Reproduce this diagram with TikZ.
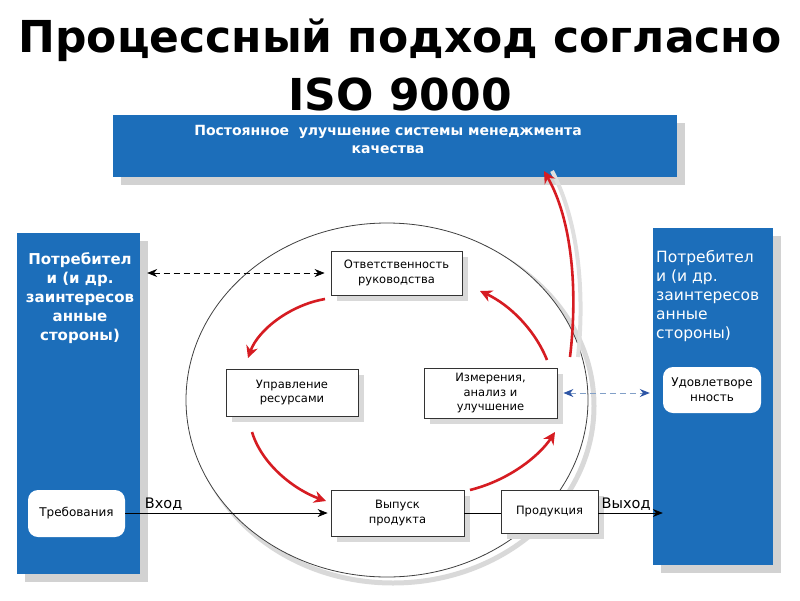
\documentclass[tikz,border=0pt]{standalone}
\usepackage{fontspec}
\setmainfont{DejaVu Sans}
\usetikzlibrary{arrows.meta,shadows}

\definecolor{isoblue}{RGB}{28,110,186}
\definecolor{isored}{RGB}{214,28,34}
\definecolor{dashblue}{RGB}{130,160,200}
\definecolor{tipblue}{RGB}{45,85,165}

\tikzset{
  bluebox/.style={fill=isoblue,draw=none,drop shadow={shadow xshift=8pt,shadow yshift=-8pt,fill=gray!35,opacity=1}},
  procbox/.style={draw=black!80,fill=white,line width=0.8pt,align=center,font=\fontsize{11.5}{14.5}\selectfont,
    drop shadow={shadow xshift=6pt,shadow yshift=-6pt,fill=gray!30,opacity=1}},
  custbox/.style={fill=white,draw=none,rounded corners=10pt,align=center,font=\fontsize{12}{15}\selectfont},
  redarrow/.style={isored,line width=2.6pt,-{Stealth[length=12pt,width=12pt]}},
}

\begin{document}
\begin{tikzpicture}[x=1pt,y=-1pt]
   \useasboundingbox (0,0) rectangle (800,600);
   % title
   \node (title1) at (400,40) {\fontsize{44}{50}\bfseries\selectfont Процессный подход согласно};
   \node (title2) at (400,94) {\fontsize{44}{50}\bfseries\selectfont ISO 9000};
   % circle with its shadow
   \draw[gray!30,line width=5pt] (393,406) ellipse [x radius=201, y radius=177];
   \draw[black!75,fill=white,line width=0.8pt] (387,400) ellipse [x radius=201, y radius=177];
   % blue boxes
   \node[bluebox,minimum width=564pt,minimum height=62pt] (impr) at (395,146) {};
   \node[text=white,align=center,font=\fontsize{14}{18}\bfseries\selectfont] (imprtext) at (388,139)
      {Постоянное \ улучшение системы менеджмента\\качества};
   \node[bluebox,minimum width=123pt,minimum height=341pt] (custl) at (78.5,403.5) {};
   \node[text=white,align=center,font=\fontsize{15}{19}\bfseries\selectfont] (custltext) at (80,298)
      {Потребител\\и (и др.\\заинтересов\\анные\\стороны)};
   \node[bluebox,minimum width=120pt,minimum height=337pt] (custr) at (713,396.5) {};
   \node[text=white,align=left,anchor=north west,inner sep=0pt,font=\fontsize{15.5}{19}\selectfont] (custrtext) at (656,250)
      {Потребител\\и (и др.\\заинтересов\\анные\\стороны)};
   \node[custbox,minimum width=97pt,minimum height=47pt] (req) at (76.5,513.5) {Требования};
   \node[custbox,minimum width=98pt,minimum height=46pt] (satis) at (712,390) {Удовлетворе\\нность};
   % process boxes
   \node[procbox,minimum width=131pt,minimum height=44pt] (resp) at (396.5,273) {Ответственность\\руководства};
   \node[procbox,minimum width=132pt,minimum height=47pt] (res) at (292,392.5) {Управление\\ресурсами};
   \node[procbox,minimum width=133pt,minimum height=50pt,inner sep=1pt] (meas) at (490.5,393) {Измерения,\\анализ и\\улучшение};
   \node[procbox,minimum width=133pt,minimum height=46pt] (rel) at (397.5,513) {Выпуск\\продукта};
   \node[procbox,minimum width=97pt,minimum height=43pt] (prod) at (549.5,511.5) {Продукция};
   % connectors
   \draw[dash pattern=on 6pt off 4pt,line width=0.7pt,{Stealth[length=10pt,width=8pt]}-{Stealth[length=10pt,width=8pt]}]
      ([xshift=7pt]custl.east |- resp.west) -- ([xshift=-6pt]resp.west);
   \draw[dash pattern=on 6pt off 4pt,dashblue,line width=1pt,{Stealth[length=10pt,width=8pt,tipblue]}-{Stealth[length=10pt,width=8pt,tipblue]}]
      ([xshift=6pt]meas.east) -- ([xshift=-13pt]satis.west |- meas.east);
   \draw[line width=0.7pt,-{Stealth[length=10pt,width=8pt]}] (req.east |- rel.west) -- ([xshift=-3pt]rel.west)
      node[pos=0.19,above=-1pt,font=\fontsize{14.5}{16}\selectfont] {Вход};
   \draw[line width=0.7pt] (rel.east) -- (prod.west |- rel.east);
   \draw[line width=0.7pt,-{Stealth[length=10pt,width=8pt]}] (prod.east |- rel.east) -- ([xshift=10pt]custr.west |- rel.east)
      node[pos=0.43,above=-1pt,font=\fontsize{14.5}{16}\selectfont] {Выход};
   % red cycle
   \coordinate (a1) at (325,299); \coordinate (b1) at (248,358);
   \coordinate (a2) at (252,432); \coordinate (b2) at (326,501);
   \coordinate (a3) at (470,490); \coordinate (b3) at (555,432);
   \coordinate (a4) at (547,360); \coordinate (b4) at (480,291);
   \coordinate (a5) at (570,357); \coordinate (b5) at (544,171);
   \draw[redarrow] (a1) .. controls (290,305) and (258,330) .. (b1);
   \draw[redarrow] (a2) .. controls (262,465) and (295,490) .. (b2);
   \draw[redarrow] (a3) .. controls (510,480) and (540,455) .. (b3);
   \draw[redarrow] (a4) .. controls (535,330) and (510,305) .. (b4);
   \draw[gray!25,line width=4pt] ([xshift=8pt]a5) .. controls (585,290) and (578,220) .. ([xshift=8pt]b5);
   \draw[redarrow] (a5) .. controls (578,290) and (572,220) .. (b5);
\end{tikzpicture}
\end{document}
